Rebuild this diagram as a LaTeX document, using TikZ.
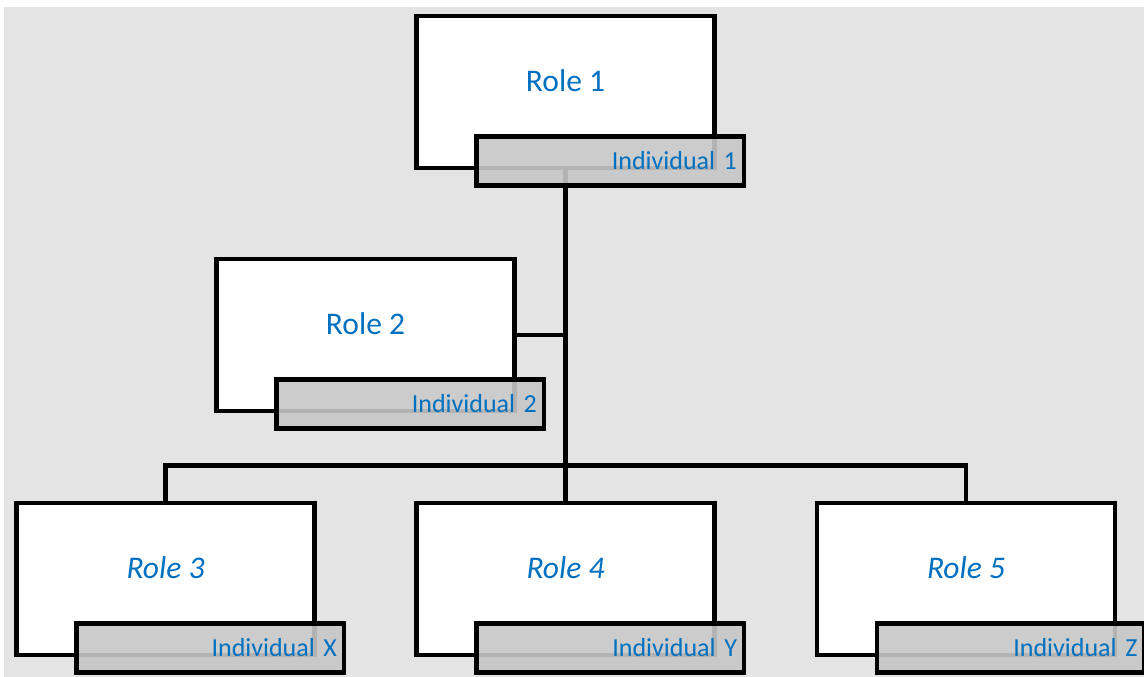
\documentclass[tikz,border=0pt]{standalone}
\usepackage{fontspec}
\setmainfont{Carlito}
\usepackage{xcolor}
\definecolor{roleblue}{HTML}{0070C0}
\definecolor{bggray}{HTML}{E4E4E4}
\definecolor{indgray}{RGB}{199,199,199}
\tikzset{
  rolebox/.style={draw, line width=4.6pt, fill=white, minimum width=298pt, minimum height=152pt,
    text=roleblue, font=\fontsize{31.5}{36}\selectfont, text depth=23pt},
  indbox/.style={draw, line width=4.6pt, fill=indgray, fill opacity=0.9, text opacity=1,
    minimum width=267.5pt, minimum height=49pt, inner xsep=7pt, text width=253.5pt, align=right,
    text=roleblue, font=\fontsize{26}{30}\selectfont},
  link/.style={line width=4.6pt}
}
\begin{document}
\begin{tikzpicture}[x=1pt,y=-1pt]
      \useasboundingbox (0,0) rectangle (1144,677);
      \fill [bggray] (4,7) rectangle (1144,677);
      \node [rolebox] (R1) at (565.5,92) {Role 1};
      \node [rolebox] (R2) at (365.5,335) {Role 2};
      \node [rolebox] (R3) at (165.5,579) {\itshape Role 3};
      \node [rolebox] (R4) at (565.5,579) {\itshape Role 4};
      \node [rolebox] (R5) at (966,579) {\itshape Role 5};
      \coordinate (bus) at (565.5,465.5);
      \draw [link] (R1.south) to (R4.north);
      \draw [link] (R2.east) to (R2.east -| R1.south);
      \draw [link] (R3.north) |- (bus) -| (R5.north);
      \node [indbox] (I1) at (610.25,161) {Individual 1};
      \node [indbox] (I2) at (410.25,404) {Individual 2};
      \node [indbox] (IX) at (210.25,648) {Individual X};
      \node [indbox] (IY) at (610.25,648) {Individual Y};
      \node [indbox] (IZ) at (1010.75,648) {Individual Z};
    \end{tikzpicture}
\end{document}
